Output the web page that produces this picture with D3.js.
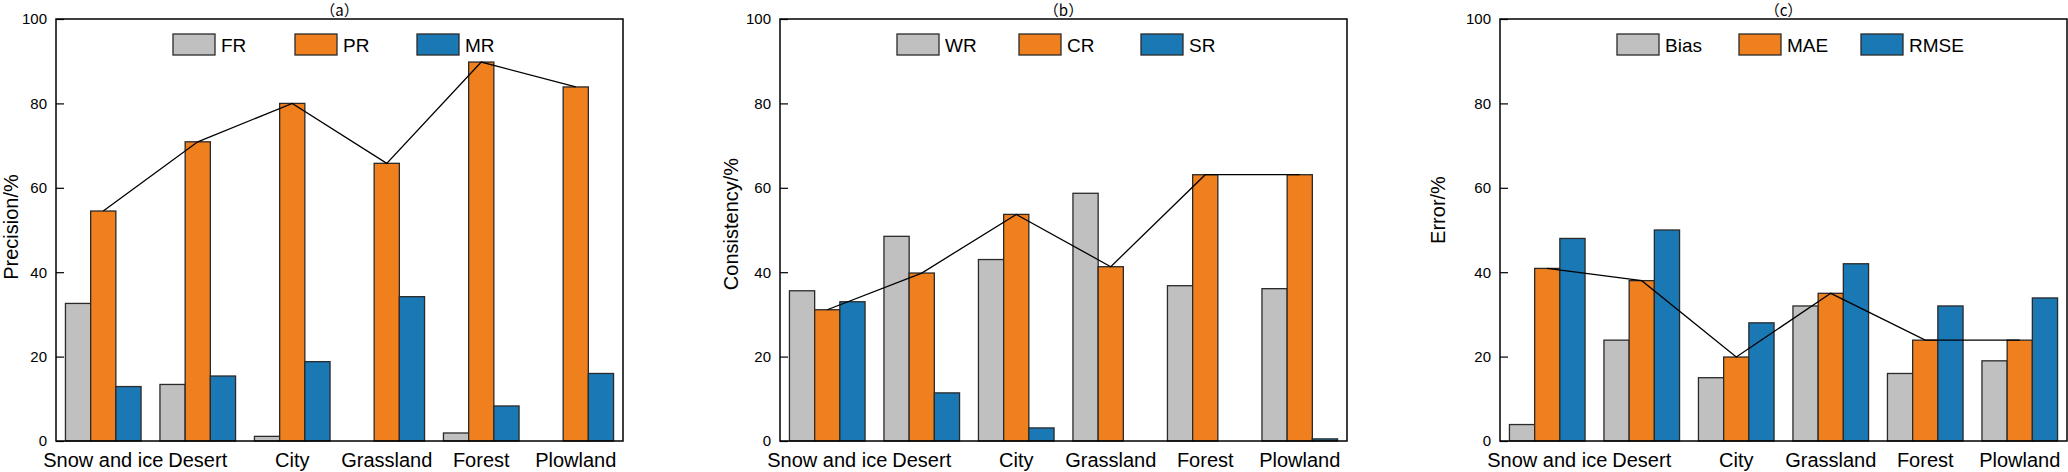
<!DOCTYPE html>
<html>
<head>
<meta charset="utf-8">
<script src="https://cdn.jsdelivr.net/npm/d3@7"></script>
<style>
  body { margin: 0; background: #fff; }
  text { font-family: "Liberation Sans", Arial, sans-serif; fill: #000; }
</style>
</head>
<body>
<svg id="chart" width="2068" height="472"></svg>
<script>
// land cover types on the x axis
var categories = ["Snow and ice", "Desert", "City", "Grassland", "Forest", "Plowland"];

// (a) precision
var precisionKeys = ["FR", "PR", "MR"];
var fr = [32.6, 13.4, 1.1, 0, 1.9, 0];
var pr = [54.5, 70.9, 80.0, 65.8, 89.8, 83.9];
var mr = [12.9, 15.4, 18.8, 34.2, 8.3, 16.0];

// (b) consistency
var consistencyKeys = ["WR", "CR", "SR"];
var wr = [35.6, 48.5, 43.0, 58.7, 36.8, 36.1];
var cr = [31.1, 39.8, 53.7, 41.3, 63.1, 63.1];
var sr = [33.0, 11.4, 3.1, 0, 0, 0.5];

// (c) error
var errorKeys = ["Bias", "MAE", "RMSE"];
var bias = [3.9, 23.9, 15.0, 32.0, 16.0, 19.0];
var mae = [40.9, 38.0, 19.9, 35.0, 23.9, 23.9];
var rmse = [48.0, 50.0, 28.0, 42.0, 32.0, 33.9];

var yTicks = [0, 20, 40, 60, 80, 100];
var colors = ["#c0c0c0", "#f0801e", "#1a79b5"];

var svg = d3.select("#chart");
var width = 567, height = 422, marginTop = 19;

var panels = [
  { left: 56, title: "（a）", ylabel: "Precision/%", labX: -45, labY: 208, keys: precisionKeys, values: [fr, pr, mr] },
  { left: 780, title: "（b）", ylabel: "Consistency/%", labX: -49, labY: 205, keys: consistencyKeys, values: [wr, cr, sr] },
  { left: 1500, title: "（c）", ylabel: "Error/%", labX: -62, labY: 191, keys: errorKeys, values: [bias, mae, rmse] }
];

var x0 = d3.scaleBand().domain(categories).range([0, width]).paddingInner(0.2).paddingOuter(0.1);
var y = d3.scaleLinear().domain([0, 100]).range([height, 0]);

panels.forEach(function(p) {
  var g = svg.append("g").attr("transform", `translate(${p.left}, ${marginTop})`);

  var x1 = d3.scaleBand().domain(p.keys).range([0, x0.bandwidth()]);

  // bars
  p.keys.forEach(function(k, i) {
    g.append("g").selectAll("rect")
      .data(p.values[i])
      .enter()
      .append("rect")
      .attr("x", (d, j) => x0(categories[j]) + x1(k))
      .attr("y", d => y(d))
      .attr("width", x1.bandwidth())
      .attr("height", d => height - y(d))
      .attr("fill", colors[i])
      .attr("stroke", d => d > 0 ? "#2a2a2a" : "none")
      .attr("stroke-width", 1.3);
  });

  // line through the middle series
  var mid = p.values[1];
  var line = d3.line()
    .x((d, j) => x0(categories[j]) + x1(p.keys[1]) + x1.bandwidth() / 2)
    .y(d => y(d));
  g.append("path")
    .datum(mid)
    .attr("d", line)
    .attr("fill", "none")
    .attr("stroke", "#000")
    .attr("stroke-width", 1.3);

  // frame
  g.append("rect")
    .attr("width", width)
    .attr("height", height)
    .attr("fill", "none")
    .attr("stroke", "#000")
    .attr("stroke-width", 1.5);

  // y axis, inward ticks
  var leftAxis = d3.axisLeft(y).tickValues(yTicks).tickSizeInner(-8).tickSizeOuter(0).tickPadding(9);
  var ya = g.append("g").call(leftAxis);
  ya.select(".domain").remove();
  ya.selectAll("line").attr("stroke", "#000").attr("stroke-width", 1.2);
  ya.selectAll("text").style("font-size", "15px").attr("fill", "#000");

  // x axis labels
  var bottomAxis = d3.axisBottom(x0).tickSize(0).tickPadding(12);
  var xa = g.append("g").attr("transform", `translate(0, ${height})`).call(bottomAxis);
  xa.select(".domain").remove();
  xa.selectAll("text").style("font-size", "20px").attr("fill", "#000");

  // y label
  g.append("text")
    .attr("transform", `translate(${p.labX}, ${p.labY}) rotate(-90)`)
    .attr("text-anchor", "middle")
    .attr("dy", "0.35em")
    .style("font-size", "20px")
    .text(p.ylabel);

  // panel title
  g.append("text")
    .attr("x", width / 2)
    .attr("y", -3)
    .attr("text-anchor", "middle")
    .style("font-family", "'Noto Sans CJK SC', 'Liberation Sans', sans-serif")
    .style("font-size", "15px")
    .text(p.title);

  // legend
  var legend = g.append("g").attr("transform", "translate(117, 15)");
  p.keys.forEach(function(k, i) {
    var item = legend.append("g").attr("transform", `translate(${i * 122}, 0)`);
    item.append("rect")
      .attr("width", 42)
      .attr("height", 21)
      .attr("fill", colors[i])
      .attr("stroke", "#2a2a2a")
      .attr("stroke-width", 1.3);
    item.append("text")
      .attr("x", 48)
      .attr("y", 18)
      .style("font-size", "19px")
      .text(k);
  });
});
</script>
</body>
</html>
